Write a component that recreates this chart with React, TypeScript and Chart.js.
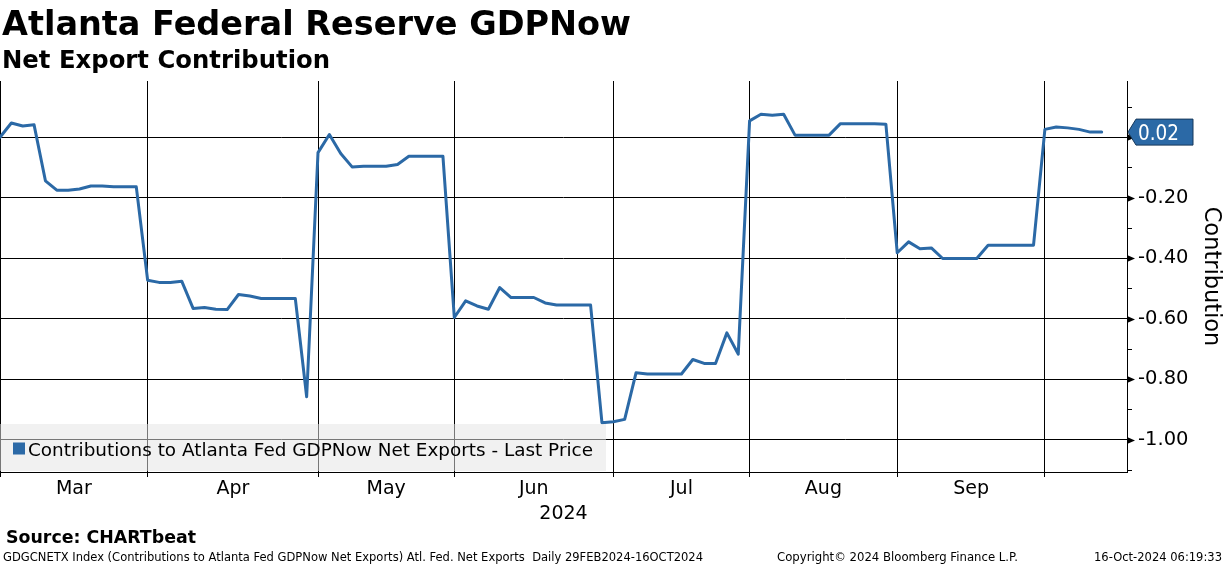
import React, { useEffect, useLayoutEffect, useRef } from 'react';
import { Chart, registerables } from 'chart.js';

Chart.register(...registerables);

// ---------- text ----------
const TITLE = 'Atlanta Federal Reserve GDPNow';
const SUBTITLE = 'Net Export Contribution';
const SOURCE = 'Source: CHARTbeat';
const FOOTER_LEFT =
  'GDGCNETX Index (Contributions to Atlanta Fed GDPNow Net Exports) Atl. Fed. Net Exports  Daily 29FEB2024-16OCT2024';
const FOOTER_MID = 'Copyright\u00A9 2024 Bloomberg Finance L.P.';
const FOOTER_RIGHT = '16-Oct-2024 06:19:33';
const SERIES_NAME = 'Contributions to Atlanta Fed GDPNow Net Exports - Last Price';
const Y_TITLE = 'Contribution';
const YEAR_LABEL = '2024';

// ---------- x axis (observation index) ----------
const MONTHS = ['Mar', 'Apr', 'May', 'Jun', 'Jul', 'Aug', 'Sep'];
// first observation of each month: Mar, Apr, May, Jun, Jul, Aug, Sep, Oct
const MONTH_START_OBS = [0, 13, 28, 40, 54, 66, 79, 92];
const X_AXIS_MAX = 99.23;

// ---------- series ----------
const VALUES = [
  0.0, 0.047, 0.037, 0.041, -0.144, -0.175, -0.175, -0.171, -0.161, -0.161, -0.164, -0.164, -0.164,
  -0.473, -0.48, -0.48, -0.476, -0.566, -0.563, -0.569, -0.57, -0.52, -0.525, -0.533, -0.533, -0.533, -0.533, -0.858,
  -0.051, 0.009, -0.054, -0.098, -0.096, -0.096, -0.096, -0.09, -0.063, -0.063, -0.063, -0.063,
  -0.596, -0.541, -0.558, -0.569, -0.497, -0.53, -0.53, -0.53, -0.548, -0.555, -0.555, -0.555, -0.555, -0.944,
  -0.941, -0.933, -0.779, -0.783, -0.783, -0.783, -0.783, -0.735, -0.748, -0.748, -0.647, -0.717,
  0.054, 0.076, 0.073, 0.076, 0.007, 0.007, 0.007, 0.007, 0.045, 0.045, 0.045, 0.045, 0.043,
  -0.382, -0.346, -0.369, -0.366, -0.401, -0.401, -0.401, -0.401, -0.357, -0.357, -0.357, -0.357, -0.357,
  0.026, 0.034, 0.031, 0.026, 0.017, 0.017,
];

// ---------- y axis ----------
const Y_MIN = -1.107;
const Y_MAX = 0.186;
const Y_TICKS = [-1.1, -1.0, -0.9, -0.8, -0.7, -0.6, -0.5, -0.4, -0.3, -0.2, -0.1, 0.0, 0.1];
const Y_TICK_LABELS = ['', '-1.00', '', '-0.80', '', '-0.60', '', '-0.40', '', '-0.20', '', '', ''];
const Y_GRID_VALUES = [-1.0, -0.8, -0.6, -0.4, -0.2, 0.0];

// ---------- style ----------
const LINE_COLOR = '#2b69a6';
const TAG_BORDER = '#17385a';
const FONT = '"DejaVu Sans", Verdana, sans-serif';

const isGrid = (v: number) => Y_GRID_VALUES.some((g) => Math.abs(g - v) < 1e-6);

function fillFit(ctx: CanvasRenderingContext2D, text: string, x: number, y: number, width: number) {
  const w = ctx.measureText(text).width;
  ctx.save();
  ctx.translate(x, y);
  ctx.scale(w > 0 ? width / w : 1, 1);
  ctx.fillText(text, 0, 0);
  ctx.restore();
}

const overlayPlugin = {
  id: 'bbgOverlay',
  afterDraw(chart: any) {
    const { ctx, chartArea } = chart;
    const xs = chart.scales.x;
    const ys = chart.scales.y;
    const right = chartArea.right;

    ctx.save();
    // y tick marks (minor line, major arrow)
    ctx.fillStyle = '#000';
    ctx.strokeStyle = '#000';
    ctx.lineWidth = 1;
    Y_TICKS.forEach((v) => {
      const py = Math.round(ys.getPixelForValue(v)) + 0.5;
      if (isGrid(v)) {
        ctx.beginPath();
        ctx.moveTo(right, py - 3.5);
        ctx.lineTo(right + 8, py);
        ctx.lineTo(right, py + 3.5);
        ctx.closePath();
        ctx.fill();
      } else {
        ctx.beginPath();
        ctx.moveTo(right, py);
        ctx.lineTo(right + 5, py);
        ctx.stroke();
      }
    });

    // month labels
    ctx.font = `19px ${FONT}`;
    ctx.textAlign = 'center';
    ctx.textBaseline = 'alphabetic';
    ctx.fillStyle = '#000';
    MONTHS.forEach((m, i) => {
      const mid = (MONTH_START_OBS[i] + MONTH_START_OBS[i + 1]) / 2;
      ctx.fillText(m, xs.getPixelForValue(mid), chartArea.bottom + 22);
    });
    ctx.fillText(YEAR_LABEL, xs.getPixelForValue((xs.min + xs.max) / 2), chartArea.bottom + 46.5);

    // legend box
    const lx = chartArea.left;
    const ly = chartArea.bottom - 48;
    ctx.fillStyle = 'rgba(229,229,229,0.52)';
    ctx.fillRect(lx, ly, 606, 47);
    ctx.fillStyle = LINE_COLOR;
    ctx.fillRect(lx + 13, ly + 18.5, 12, 12);
    ctx.fillStyle = '#000';
    ctx.font = `18.3px ${FONT}`;
    ctx.textAlign = 'left';
    fillFit(ctx, SERIES_NAME, lx + 28, ly + 32, 565);

    // last value tag
    const last = VALUES[VALUES.length - 1];
    const ty = ys.getPixelForValue(last);
    ctx.beginPath();
    ctx.moveTo(right + 1, ty);
    ctx.lineTo(right + 9, ty - 13);
    ctx.lineTo(right + 66, ty - 13);
    ctx.lineTo(right + 66, ty + 13);
    ctx.lineTo(right + 9, ty + 13);
    ctx.closePath();
    ctx.fillStyle = LINE_COLOR;
    ctx.fill();
    ctx.strokeStyle = TAG_BORDER;
    ctx.lineWidth = 1;
    ctx.stroke();
    ctx.fillStyle = '#fff';
    ctx.font = `20.5px ${FONT}`;
    ctx.textAlign = 'left';
    fillFit(ctx, last.toFixed(2), right + 11, ty + 7.5, 41);
    ctx.restore();
  },
};

function FitText(props: {
  text: string;
  left: number;
  top: number;
  width: number;
  size: number;
  bold?: boolean;
}) {
  const ref = useRef<HTMLSpanElement>(null);
  useLayoutEffect(() => {
    const el = ref.current;
    if (!el) return;
    el.style.transform = 'none';
    const w = el.getBoundingClientRect().width;
    if (w > 0) el.style.transform = `scaleX(${props.width / w})`;
  }, [props.text, props.width, props.size]);
  return (
    <span
      ref={ref}
      style={{
        position: 'absolute',
        left: props.left,
        top: props.top,
        fontFamily: FONT,
        fontWeight: props.bold ? 'bold' : 'normal',
        fontSize: props.size,
        lineHeight: `${props.size}px`,
        whiteSpace: 'pre',
        transformOrigin: '0 0',
        color: '#000',
      }}
    >
      {props.text}
    </span>
  );
}

export default function App() {
  const canvasRef = useRef<HTMLCanvasElement>(null);

  useEffect(() => {
    document.body.style.margin = '0';
    document.body.style.background = '#fff';
    const canvas = canvasRef.current;
    if (!canvas) return;
    const chart = new Chart(canvas, {
      type: 'line',
      data: {
        labels: VALUES.map((_, i) => i),
        datasets: [
          {
            label: SERIES_NAME,
            data: VALUES,
            borderColor: LINE_COLOR,
            backgroundColor: LINE_COLOR,
            borderWidth: 3,
            pointRadius: 0,
            tension: 0,
            fill: false,
            borderJoinStyle: 'round',
            borderCapStyle: 'round',
          },
        ],
      },
      options: {
        animation: false,
        responsive: false,
        maintainAspectRatio: false,
        layout: { padding: { top: 81, left: 0, right: 0, bottom: 0 } },
        plugins: {
          legend: { display: false },
          tooltip: { enabled: false },
          title: { display: false },
        },
        scales: {
          x: {
            type: 'linear',
            min: 0,
            max: X_AXIS_MAX,
            afterBuildTicks: (s: any) => {
              s.ticks = MONTH_START_OBS.map((v) => ({ value: v }));
            },
            afterFit: (s: any) => {
              s.height = 94;
            },
            ticks: { display: false },
            grid: { color: '#000', lineWidth: 1, drawTicks: true, tickLength: 5, tickColor: '#000' },
            border: { display: true, color: '#000', width: 1 },
          },
          y: {
            type: 'linear',
            position: 'right',
            min: Y_MIN,
            max: Y_MAX,
            afterBuildTicks: (s: any) => {
              s.ticks = Y_TICKS.map((v) => ({ value: v }));
            },
            afterFit: (s: any) => {
              s.width = 97;
            },
            ticks: {
              autoSkip: false,
              padding: 11,
              color: '#000',
              font: { family: FONT, size: 19.5 },
              callback: (_v: any, i: number) => Y_TICK_LABELS[i],
            },
            grid: {
              drawTicks: false,
              lineWidth: 1,
              color: (c: any) => (c.tick && isGrid(c.tick.value) ? '#000' : 'rgba(0,0,0,0)'),
            },
            border: { display: true, color: '#000', width: 1 },
            title: {
              display: true,
              text: Y_TITLE,
              color: '#000',
              font: { family: FONT, size: 22.5 },
              padding: { top: 0, bottom: 0 },
            },
          },
        },
      },
      plugins: [overlayPlugin],
    } as any);
    return () => chart.destroy();
  }, []);

  return (
    <div style={{ position: 'relative', width: 1224, height: 566, background: '#fff', overflow: 'hidden' }}>
      <canvas ref={canvasRef} width={1224} height={566} style={{ position: 'absolute', left: 0, top: 0, width: 1224, height: 566 }} />
      <FitText text={TITLE} left={2} top={6.2} width={629} size={34} bold />
      <FitText text={SUBTITLE} left={2} top={47.2} width={328} size={25} bold />
      <FitText text={SOURCE} left={6} top={528.1} width={190} size={18} bold />
      <FitText text={FOOTER_LEFT} left={3} top={551.1} width={700} size={12.5} />
      <FitText text={FOOTER_MID} left={777} top={551.1} width={241} size={12.5} />
      <FitText text={FOOTER_RIGHT} left={1094} top={551.1} width={128} size={12.5} />
    </div>
  );
}
